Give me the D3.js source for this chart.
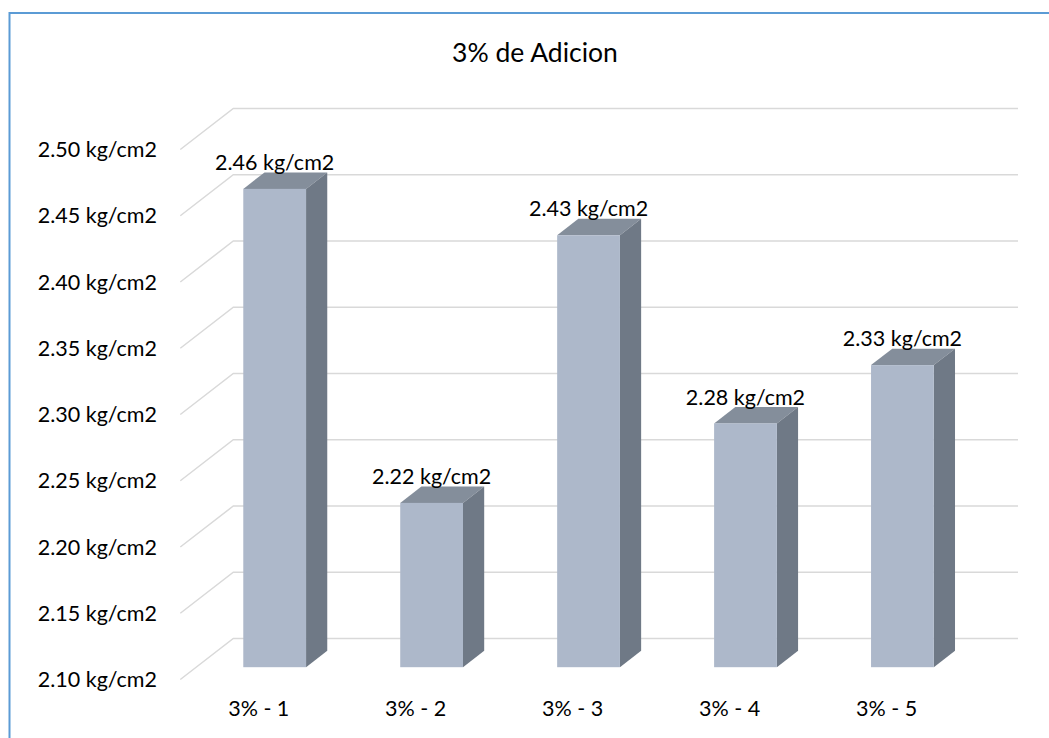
<!DOCTYPE html>
<html>
<head>
<meta charset="utf-8">
<script src="https://cdn.jsdelivr.net/npm/d3@7/dist/d3.min.js"></script>
<style>
  html, body { margin: 0; padding: 0; background: #ffffff; }
  svg { display: block; }
  text { font-family: Lato, "Open Sans", sans-serif; fill: #000; }
</style>
</head>
<body>
<svg id="chart" width="1049" height="738"></svg>
<script>
// Compressive strength samples at 3% addition
const categories = ["3% - 1", "3% - 2", "3% - 3", "3% - 4", "3% - 5"];
const values = [2.461, 2.224, 2.426, 2.284, 2.328];
const tickValues = [2.10, 2.15, 2.20, 2.25, 2.30, 2.35, 2.40, 2.45, 2.50];
const title = "3% de Adicion";
const unit = " kg/cm2";

const svg = d3.select("#chart");

// Outer chart frame
svg.append("rect")
  .attr("x", 9.5).attr("y", 13)
  .attr("width", 1100).attr("height", 800)
  .attr("fill", "none")
  .attr("stroke", "#5b9bd5")
  .attr("stroke-width", 2);

// Back wall scales
const x = d3.scaleBand().domain(categories).range([233.3, 1018]);
const y = d3.scaleLinear().domain([2.10, 2.50]).range([638.5, 108.5]);

// Oblique depth of the floor (back wall -> front edge)
const depth = { dx: -53, dy: 41 };
const barFront = 0.7, barBack = 0.3;   // bar faces as fractions of floor depth
const barW = x.bandwidth() * 0.4;
const fmt = d3.format(".2f");

// Gridlines: diagonal on the side wall + horizontal on the back wall
const grid = svg.append("g")
  .attr("stroke", "#d9d9d9")
  .attr("stroke-width", 1.5)
  .attr("fill", "none");
tickValues.forEach(v => {
  const yb = y(v);
  const x0 = x.range()[0];
  grid.append("path")
    .attr("d", `M${x0 + depth.dx},${yb + depth.dy}L${x0},${yb}L${x.range()[1]},${yb}`);
});

// Y-axis labels at the front ends of the side-wall lines
svg.append("g").selectAll("text")
  .data(tickValues)
  .join("text")
  .attr("x", 157)
  .attr("y", d => y(d) + depth.dy)
  .attr("dy", "0.36em")
  .attr("text-anchor", "end")
  .style("font-size", "21.5px")
  .text(d => fmt(d) + unit);

// Bars as oblique boxes
const base = y.domain()[0];
const bars = svg.append("g").selectAll("g")
  .data(categories.map((c, i) => ({ c, v: values[i] })))
  .join("g");

bars.each(function(d) {
  const g = d3.select(this);
  const cx = x(d.c) + x.bandwidth() / 2;
  const fx = cx - barW / 2 + depth.dx * barFront;
  const fy0 = y(base) + depth.dy * barFront;
  const fy1 = y(d.v) + depth.dy * barFront;
  const ox = depth.dx * (barBack - barFront);
  const oy = depth.dy * (barBack - barFront);
  // top face
  g.append("path")
    .attr("d", `M${fx},${fy1}L${fx + barW},${fy1}L${fx + barW + ox},${fy1 + oy}L${fx + ox},${fy1 + oy}Z`)
    .attr("fill", "#848e9b");
  // side face
  g.append("path")
    .attr("d", `M${fx + barW},${fy1}L${fx + barW + ox},${fy1 + oy}L${fx + barW + ox},${fy0 + oy}L${fx + barW},${fy0}Z`)
    .attr("fill", "#6f7986");
  // front face
  g.append("rect")
    .attr("x", fx).attr("y", fy1)
    .attr("width", barW).attr("height", fy0 - fy1)
    .attr("fill", "#adb8ca");
  // value label
  g.append("text")
    .attr("x", fx + barW / 2)
    .attr("y", fy1 + oy - 2.5)
    .attr("text-anchor", "middle")
    .style("font-size", "21.5px")
    .text(fmt(d.v) + unit);
});

// Category labels along the front edge of the floor
svg.append("g").selectAll("text")
  .data(categories)
  .join("text")
  .attr("x", d => x(d) + x.bandwidth() / 2 + depth.dx)
  .attr("y", 716)
  .attr("text-anchor", "middle")
  .style("font-size", "21.5px")
  .text(d => d);

// Title
svg.append("text")
  .attr("x", 535)
  .attr("y", 62)
  .attr("text-anchor", "middle")
  .style("font-size", "26.5px")
  .text(title);
</script>
</body>
</html>
